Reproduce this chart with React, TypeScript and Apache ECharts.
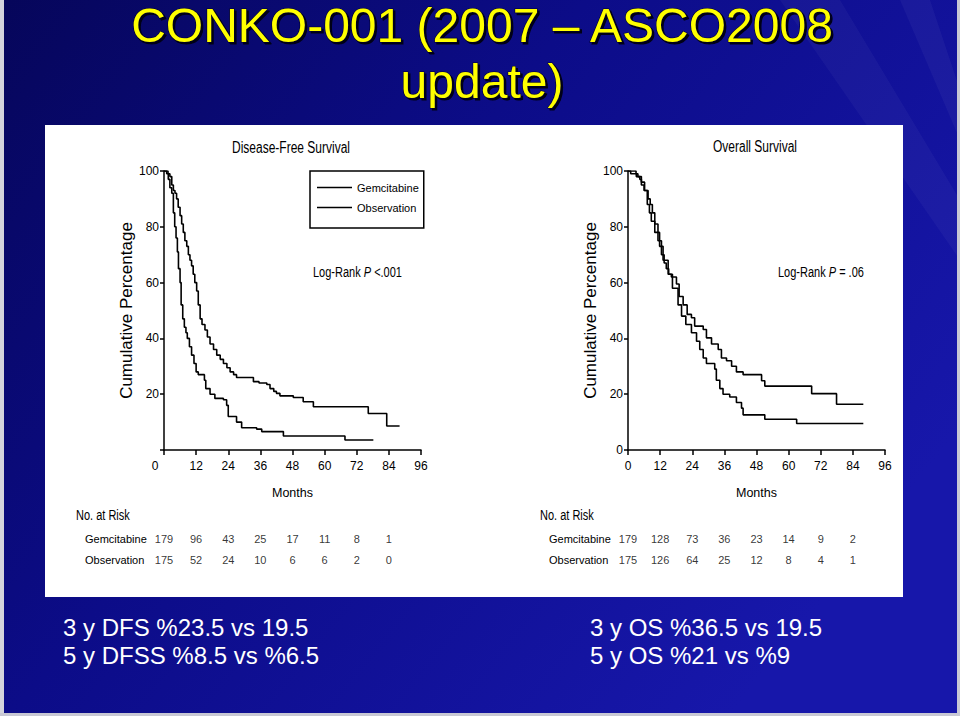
import React, { useEffect, useRef } from 'react';
import * as echarts from 'echarts';

// ---------- data ----------
const seriesNames = ['Gemcitabine', 'Observation'];
const riskMonths = [0, 12, 24, 36, 48, 60, 72, 84];

// Disease-free survival: [month, cumulative %]
const dfsGemcitabine: [number, number][] = [
  [0, 100], [1.5, 99], [2.2, 98], [2.9, 95], [3.5, 93], [4.1, 92], [4.7, 90], [5.3, 87],
  [6.0, 84], [6.6, 81], [7.2, 78], [7.8, 75], [8.5, 73], [9.1, 70], [9.7, 68], [10.3, 66],
  [10.9, 63], [11.5, 60], [12.2, 57], [12.8, 52], [13.5, 47], [14.2, 45], [15.3, 43],
  [16.2, 40.5], [17.2, 38], [18.5, 36], [19.7, 34], [21.0, 32.5], [22.2, 31], [23.5, 29.5],
  [24.7, 28], [26.0, 27], [27.1, 26], [33.4, 24.5], [35.5, 24], [38.4, 23.5], [39.6, 22],
  [41.0, 21], [42.0, 20.3], [43.3, 19.4], [48.3, 18.8], [52.0, 17.3], [55.8, 15.5],
  [76.3, 13.1], [83.2, 8.6], [88.0, 8.6],
];
const dfsObservation: [number, number][] = [
  [0, 100], [1.0, 99], [1.6, 97], [2.2, 94], [2.9, 92], [3.5, 85], [4.0, 80], [4.5, 76],
  [5.0, 71], [5.4, 65], [6.0, 60], [6.4, 52], [7.0, 47], [7.6, 44], [8.2, 42], [8.7, 40],
  [9.5, 37], [10.3, 34], [11.2, 31], [12.0, 28], [12.8, 27], [15.1, 25], [15.6, 22],
  [17.2, 20], [19.0, 18.5], [22.2, 18], [23.4, 16], [24.0, 12], [27.1, 10], [29.0, 8],
  [34.6, 7.5], [36.5, 6.6], [44.6, 5], [67.6, 3.6], [78.2, 3.6],
];

// Overall survival: [month, cumulative %]
const osGemcitabine: [number, number][] = [
  [0, 100], [3.0, 99], [3.7, 98], [5.0, 96], [6.2, 93], [7.5, 90], [8.3, 88], [9.1, 85],
  [10.0, 81], [11.2, 75], [12.5, 70], [13.5, 67], [14.3, 65], [15.2, 63], [16.2, 62],
  [18.1, 59.5], [19.1, 55], [20.6, 52], [22.1, 48.6], [23.7, 47.4], [24.9, 44.4],
  [28.1, 43.2], [29.3, 40.2], [31.2, 38], [33.7, 36], [34.9, 33], [36.8, 32], [38.7, 30],
  [40.5, 28], [43.0, 27], [49.9, 24.8], [51.1, 22.9], [68.6, 20.2], [77.9, 16.4], [87.9, 16.4],
];
const osObservation: [number, number][] = [
  [0, 100], [1.0, 99], [3.1, 98], [4.4, 97], [5.0, 95], [6.0, 93], [7.2, 88], [8.0, 85],
  [8.7, 82], [10.0, 78], [11.8, 73], [13.1, 68], [15.0, 63], [16.6, 58], [18.7, 52],
  [20.0, 48], [21.6, 45], [23.7, 42], [25.6, 39], [26.8, 36], [28.1, 33], [29.3, 31],
  [32.4, 29], [33.0, 25], [34.3, 22], [35.5, 20], [38.0, 19], [40.5, 17], [42.4, 15],
  [43.0, 12.6], [51.1, 11], [63.0, 9.5], [87.9, 9.5],
];

// No. at risk
const dfsRiskGemcitabine = [179, 96, 43, 25, 17, 11, 8, 1];
const dfsRiskObservation = [175, 52, 24, 10, 6, 6, 2, 0];
const osRiskGemcitabine = [179, 128, 73, 36, 23, 14, 9, 2];
const osRiskObservation = [175, 126, 64, 25, 12, 8, 4, 1];

// texts
const titleLines = ['CONKO-001 (2007 \u2013 ASCO2008', 'update)'];
const dfsNotes = ['3 y DFS %23.5 vs 19.5', '5 y DFSS %8.5 vs %6.5'];
const osNotes = ['3 y OS %36.5 vs 19.5', '5 y OS %21 vs %9'];
const panelTitles = ['Disease-Free Survival', 'Overall Survival'];
const logRankValues = ['<.001', '= .06'];

// ---------- styling ----------
const SANS = "'Liberation Sans', Arial, sans-serif";
const AXIS_LINE = { color: '#000', width: 1.5 };
const TALL = 1.3; // the scanned figure is stretched vertically

function buildOption() {
  const kmLefts = [164, 628];
  const yNameGaps = [17, 21];
  const grids: any[] = [];
  const xAxes: any[] = [];
  const yAxes: any[] = [];
  const series: any[] = [];

  kmLefts.forEach((left, i) => {
    grids.push({ left, top: 171, width: 257, height: 279 });
    xAxes.push({
      gridIndex: i, type: 'value', min: 0, max: 96, interval: 12,
      axisLine: { lineStyle: AXIS_LINE },
      axisTick: { length: 5, lineStyle: AXIS_LINE },
      splitLine: { show: false },
      axisLabel: {
        color: '#000', fontSize: 12, fontFamily: SANS, margin: 10,
        formatter: (v: number) => (i === 0 && v === 0 ? '{z|0}' : String(v)),
        rich: { z: { color: '#000', fontSize: 12, fontFamily: SANS, padding: [0, 18, 0, 0] } },
      },
      name: 'Months', nameLocation: 'middle', nameGap: 36,
      nameTextStyle: { color: '#000', fontSize: 12.5, fontFamily: SANS },
    });
    yAxes.push({
      gridIndex: i, type: 'value', min: 0, max: 100, interval: 20,
      axisLine: { show: true, lineStyle: AXIS_LINE },
      axisTick: { show: true, length: 4, lineStyle: AXIS_LINE },
      splitLine: { show: false },
      axisLabel: {
        color: '#000', fontSize: 12, fontFamily: SANS, margin: 5,
        formatter: (v: number) => (i === 0 && v === 0 ? '' : String(v)),
      },
      name: 'Cumulative Percentage', nameLocation: 'middle', nameGap: yNameGaps[i], nameRotate: 90,
      nameTextStyle: { color: '#000', fontSize: 17, fontFamily: SANS },
    });
  });

  kmLefts.forEach((left, j) => {
    const i = j + 2;
    grids.push({ left, top: 528, width: 257, height: 42 });
    xAxes.push({ gridIndex: i, type: 'value', min: 0, max: 96, show: false });
    yAxes.push({
      gridIndex: i, type: 'category', data: seriesNames, inverse: true,
      axisLine: { show: false }, axisTick: { show: false }, splitLine: { show: false },
      axisLabel: { color: '#000', fontSize: 11, fontFamily: SANS, align: 'left', margin: 79 },
    });
  });

  const km = (data: [number, number][], name: string, idx: number) => ({
    type: 'line', name, step: 'end', data, xAxisIndex: idx, yAxisIndex: idx,
    showSymbol: false, symbol: 'none', silent: true,
    lineStyle: { color: '#000', width: 1.6 }, itemStyle: { color: '#000' }, z: 3,
  });
  series.push(km(dfsGemcitabine, seriesNames[0], 0));
  series.push(km(dfsObservation, seriesNames[1], 0));
  series.push(km(osGemcitabine, seriesNames[0], 1));
  series.push(km(osObservation, seriesNames[1], 1));

  const risk = (counts: number[], row: number, idx: number) => ({
    type: 'scatter', name: `risk-${idx}-${row}`, xAxisIndex: idx, yAxisIndex: idx, silent: true,
    data: riskMonths.map((m, k) => [m, row, counts[k]]),
    symbolSize: 1, itemStyle: { color: 'rgba(0,0,0,0)' },
    label: {
      show: true, position: 'inside', color: '#000', fontSize: 11, fontFamily: SANS,
      formatter: (p: any) => String(p.value[2]),
    },
  });
  series.push(risk(dfsRiskGemcitabine, 0, 2));
  series.push(risk(dfsRiskObservation, 1, 2));
  series.push(risk(osRiskGemcitabine, 0, 3));
  series.push(risk(osRiskObservation, 1, 3));

  const txt = (x: number, y: number, text: string, fontSize: number, fill: string,
    align = 'left', extra: any = {}, scaleY = 1) => ({
    type: 'text', x, y, z: 5, scaleY,
    style: { text, fontSize, fill, fontFamily: SANS, textAlign: align, textVerticalAlign: 'middle', ...extra },
  });

  const graphics: any[] = [
    {
      type: 'rect', z: -20, shape: { x: 0, y: 0, width: 960, height: 716 },
      style: {
        fill: new echarts.graphic.LinearGradient(0, 0, 1, 0.6, [
          { offset: 0, color: '#06065a' },
          { offset: 0.45, color: '#0c0c88' },
          { offset: 1, color: '#1717aa' },
        ]),
      },
    },
    { type: 'polygon', z: -19, shape: { points: [[780, 0], [840, 0], [960, 200], [960, 260]] }, style: { fill: 'rgba(255,255,255,0.035)' } },
    { type: 'polygon', z: -19, shape: { points: [[900, 0], [930, 0], [960, 90], [960, 140]] }, style: { fill: 'rgba(255,255,255,0.04)' } },
    { type: 'rect', z: -18, shape: { x: 0, y: 0, width: 4, height: 716 }, style: { fill: '#d4d4dc' } },
    { type: 'rect', z: -18, shape: { x: 957, y: 0, width: 3, height: 716 }, style: { fill: '#c8c8d4' } },
    { type: 'rect', z: -18, shape: { x: 0, y: 713, width: 960, height: 3 }, style: { fill: '#c8c8d4' } },
    { type: 'rect', z: -15, shape: { x: 45, y: 125, width: 858, height: 472 }, style: { fill: '#ffffff' } },
  ];

  // title in yellow with a dark edge like the slide's drop shadow
  const titleY = [25, 81];
  titleLines.forEach((t, k) => {
    graphics.push(txt(482, titleY[k], t, 48, '#ffff00', 'center', {
      stroke: '#00002a', lineWidth: 1.2,
      textShadowColor: '#000018', textShadowOffsetX: 2, textShadowOffsetY: 2, textShadowBlur: 1,
    }));
  });

  graphics.push(txt(291, 147, panelTitles[0], 12, '#000', 'center', {}, TALL));
  graphics.push(txt(755, 146, panelTitles[1], 12, '#000', 'center', {}, TALL));

  const logRankX = [313, 778];
  logRankX.forEach((x, k) => {
    graphics.push({
      type: 'text', x, y: 272, z: 5, scaleY: TALL,
      style: {
        text: `{a|Log-Rank }{i|P}{a| ${logRankValues[k]}}`,
        textAlign: 'left', textVerticalAlign: 'middle',
        rich: {
          a: { fontSize: 11, fontFamily: SANS, fill: '#000', color: '#000' },
          i: { fontSize: 11, fontFamily: SANS, fontStyle: 'italic', fill: '#000', color: '#000' },
        },
      },
    });
  });

  graphics.push(txt(76, 515, 'No. at Risk', 11, '#000', 'left', {}, TALL));
  graphics.push(txt(540, 515, 'No. at Risk', 11, '#000', 'left', {}, TALL));

  const noteY = [627, 655];
  dfsNotes.forEach((t, k) => graphics.push(txt(63, noteY[k], t, 24, '#ffffff')));
  osNotes.forEach((t, k) => graphics.push(txt(590, noteY[k], t, 24, '#ffffff')));

  return {
    animation: false,
    grid: grids,
    xAxis: xAxes,
    yAxis: yAxes,
    legend: {
      show: true, orient: 'vertical', left: 310, top: 171, selectedMode: false,
      data: [{ name: seriesNames[0], icon: 'rect' }, { name: seriesNames[1], icon: 'rect' }],
      itemWidth: 35, itemHeight: 1.5, itemGap: 9,
      padding: [11, 5, 15, 7],
      borderColor: '#000', borderWidth: 1.5, backgroundColor: '#fff',
      textStyle: { color: '#000', fontSize: 11, fontFamily: SANS },
    },
    series,
    graphic: graphics,
  };
}

export default function App() {
  const ref = useRef<HTMLDivElement>(null);
  useEffect(() => {
    document.body.style.margin = '0';
    const chart = echarts.init(ref.current!, null, { renderer: 'svg' });
    chart.setOption(buildOption() as any);
    return () => chart.dispose();
  }, []);
  return <div ref={ref} style={{ width: 960, height: 716 }} />;
}
